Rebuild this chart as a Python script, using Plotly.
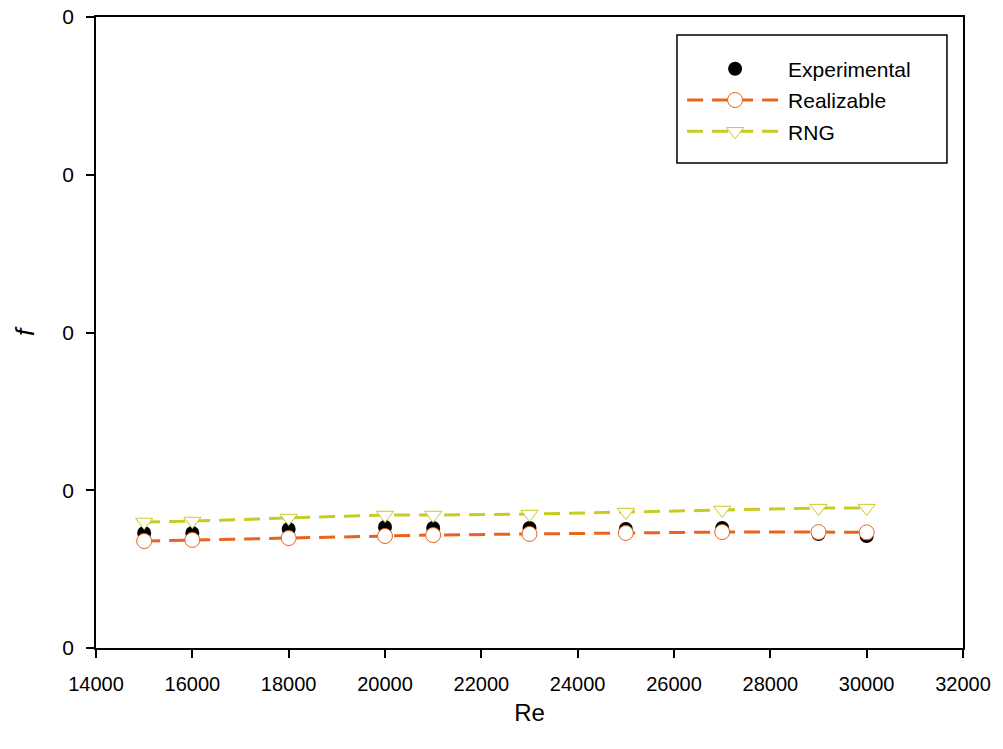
import plotly.graph_objects as go

re_vals = [15000, 16000, 18000, 20000, 21000, 23000, 25000, 27000, 29000, 30000]
f_experimental = [0.00729, 0.00729, 0.00754, 0.00767, 0.00761, 0.00761, 0.00754, 0.00761, 0.00723, 0.00710]
f_realizable = [0.00678, 0.00685, 0.00697, 0.00710, 0.00716, 0.00723, 0.00729, 0.00735, 0.00735, 0.00733]
f_rng = [0.00799, 0.00805, 0.00824, 0.00843, 0.00843, 0.00849, 0.00862, 0.00875, 0.00887, 0.00887]

x_ticks = [14000, 16000, 18000, 20000, 22000, 24000, 26000, 28000, 30000, 32000]
y_ticks = [0, 0.01, 0.02, 0.03, 0.04]

FONT = "Liberation Sans, Arial, sans-serif"
orange = "#e8641e"
olive = "#c8cc22"

fig = go.Figure()
fig.add_trace(go.Scatter(
    x=re_vals, y=f_experimental, name="Experimental", mode="markers",
    marker=dict(symbol="circle", size=14, color="black", line=dict(width=0)),
    legendgroup="a"))
fig.add_trace(go.Scatter(
    x=re_vals, y=f_realizable, name="Realizable", mode="lines+markers",
    line=dict(color=orange, width=3, dash="16px,9px"),
    marker=dict(symbol="circle", size=15, color="white", line=dict(color=orange, width=1)),
    legendgroup="b"))
fig.add_trace(go.Scatter(
    x=re_vals, y=f_rng, name="RNG", mode="lines+markers",
    line=dict(color=olive, width=3, dash="16px,9px"),
    marker=dict(symbol="triangle-down", size=15, color="white", line=dict(color=olive, width=1)),
    legendgroup="c"))

fig.add_shape(type="rect", xref="paper", yref="paper",
              x0=0.6701, x1=0.9815, y0=0.7686, y1=0.9715,
              line=dict(color="black", width=1.5), fillcolor="rgba(0,0,0,0)")

fig.update_layout(
    width=1003, height=749,
    margin=dict(l=96, r=40, t=17, b=101, autoexpand=False),
    paper_bgcolor="white", plot_bgcolor="white",
    font=dict(family=FONT, size=20, color="black"),
    showlegend=True,
    legend=dict(x=0.676, y=0.950, xanchor="left", yanchor="top",
                bgcolor="rgba(0,0,0,0)", borderwidth=0,
                font=dict(family=FONT, size=21, color="black"),
                tracegroupgap=1, itemwidth=96),
    xaxis=dict(range=[14000, 32000], tickvals=x_ticks, ticktext=[str(v) for v in x_ticks],
               showline=True, linecolor="black", linewidth=1.5, mirror=True,
               ticks="outside", ticklen=8, tickcolor="black", tickwidth=1.5,
               showgrid=False, zeroline=False, ticklabelstandoff=9, automargin=False,
               tickfont=dict(family=FONT, size=20),
               title=dict(text="Re", font=dict(family=FONT, size=24), standoff=10)),
    yaxis=dict(range=[0, 0.04], tickvals=y_ticks, tickformat=".0f",
               showline=True, linecolor="black", linewidth=1.5, mirror=True,
               ticks="outside", ticklen=8, tickcolor="black", tickwidth=1.5,
               showgrid=False, zeroline=False, ticklabelstandoff=8, automargin=False,
               tickfont=dict(family=FONT, size=21),
               title=dict(text="<i>f</i>", font=dict(family=FONT, size=26), standoff=20)),
)

fig.write_html("out.html")
